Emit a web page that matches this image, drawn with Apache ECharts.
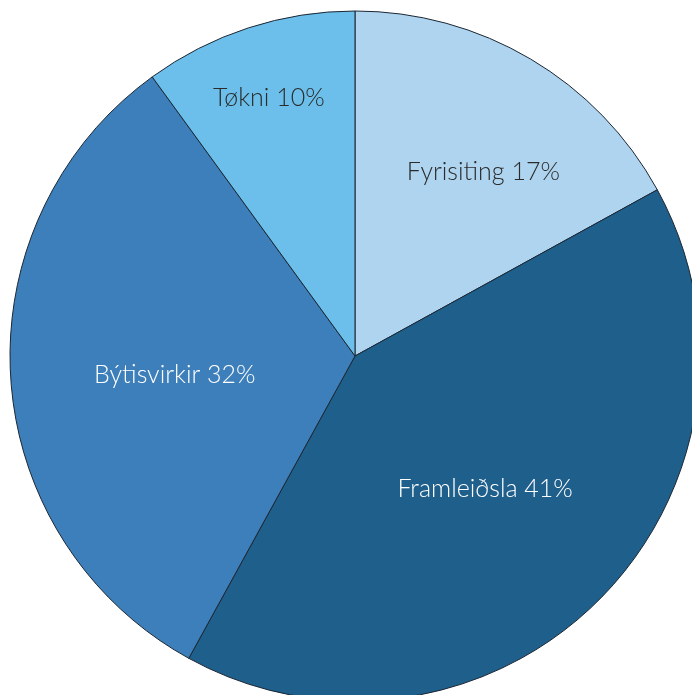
<!DOCTYPE html>
<html><head><meta charset="utf-8">
<script src="https://cdn.jsdelivr.net/npm/echarts@6/dist/echarts.min.js"></script>
<style>html,body{margin:0;padding:0;background:#fff}#c{width:692px;height:695px}</style>
</head><body><div id="c"></div>
<script>
const categories = ['Fyrisiting', 'Framleiðsla', 'Býtisvirkir', 'Tøkni'];
const values = [17, 41, 32, 10];
const colors = ['#aed4ef', '#1f5f8b', '#3d7fba', '#6bbfea'];
const textColors = ['#2b2b2b', '#ffffff', '#ffffff', '#2b2b2b'];
const labelOffsets = [[39, -33], [6, 9], [-5, 8], [-32, -91]];

const chart = echarts.init(document.getElementById('c'));
chart.setOption({
  animation: false,
  series: [{
    type: 'pie',
    center: [355, 356],
    radius: 345,
    startAngle: 90,
    clockwise: true,
    avoidLabelOverlap: false,
    itemStyle: { borderColor: '#1b2633', borderWidth: 1 },
    label: {
      position: 'inside',
      fontFamily: 'Lato, "Open Sans", sans-serif',
      fontWeight: 300,
      fontSize: 25,
      formatter: p => p.name + ' ' + p.value + '%'
    },
    labelLine: { show: false },
    emphasis: { disabled: true },
    data: categories.map((n, i) => ({
      name: n, value: values[i],
      itemStyle: { color: colors[i] },
      label: { color: textColors[i], offset: labelOffsets[i] }
    }))
  }]
});
</script></body></html>
